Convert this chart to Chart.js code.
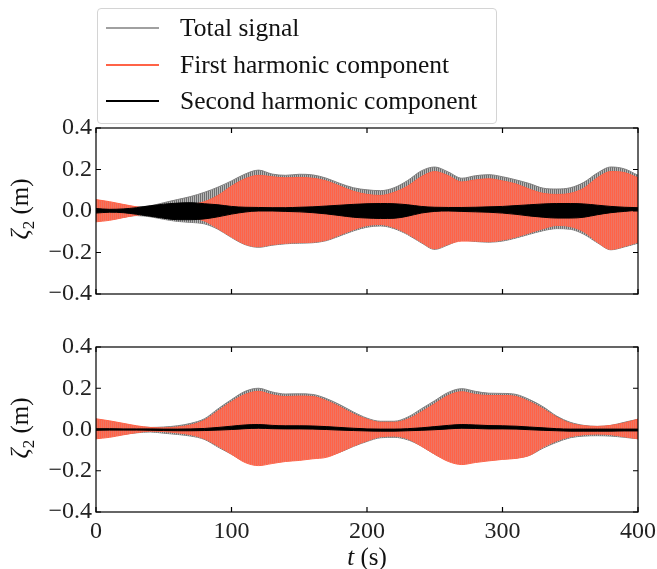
<!DOCTYPE html>
<html>
<head>
<meta charset="utf-8">
<script src="https://cdn.jsdelivr.net/npm/chart.js@4/dist/chart.umd.min.js"></script>
<style>
  body { margin: 0; background: #fff; }
  #wrap { position: relative; width: 657px; height: 569px; font-family: "Liberation Serif", serif; color: #111; }
  canvas { position: absolute; left: 0; }
  #c1 { top: 0; }
  #c2 { top: 300px; }
  .legend { position: absolute; left: 97px; top: 8px; width: 398px; height: 114px; border: 1px solid #d4d4d4; border-radius: 4px; background: rgba(255,255,255,0.85); z-index: 2; }
  .row { position: absolute; left: 0; height: 30px; font-size: 25.5px; line-height: 30px; }
  .row span.ln { position: absolute; left: 8px; top: 14px; width: 53px; height: 2px; }
  .row span.tx { position: absolute; left: 82px; white-space: nowrap; }
  .ytitle { position: absolute; font-size: 25px; white-space: nowrap; transform: translate(-50%, -50%) rotate(-90deg); left: 22px; }
  .xtitle { position: absolute; font-size: 25px; left: 367px; top: 557px; transform: translate(-50%, -50%); white-space: nowrap; }
</style>
</head>
<body>
<div id="wrap">
  <canvas id="c1" width="657" height="300"></canvas>
  <canvas id="c2" width="657" height="269"></canvas>
  <div class="legend">
    <div class="row" style="top:4px"><span class="ln" style="background:#a0a0a0"></span><span class="tx">Total signal</span></div>
    <div class="row" style="top:41px"><span class="ln" style="background:#ff6347"></span><span class="tx">First harmonic component</span></div>
    <div class="row" style="top:77px"><span class="ln" style="background:#000"></span><span class="tx">Second harmonic component</span></div>
  </div>
  <div class="ytitle" style="top:209px"><i>ζ</i><sub style="font-size:17px">2</sub> (m)</div>
  <div class="ytitle" style="top:428px"><i>ζ</i><sub style="font-size:17px">2</sub> (m)</div>
  <div class="xtitle"><i>t</i> (s)</div>
</div>
<script>
// time samples (s) where the envelopes were read
const t = [0, 10, 20, 30, 40, 50, 60, 70, 80, 90, 100, 110, 120, 130, 140, 150, 160, 170, 180, 190, 200,
           210, 220, 230, 240, 250, 260, 270, 280, 290, 300, 310, 320, 330, 340, 350, 360, 370, 380, 390, 400];
const xTicks = [0, 100, 200, 300, 400];
const yTicks = [-0.4, -0.2, 0, 0.2, 0.4];

// ---- top panel envelopes (m)
const topGrayUp = [0.04, 0.035, 0.025, 0.02, 0.025, 0.04, 0.055, 0.07, 0.09, 0.115, 0.145, 0.178, 0.197, 0.178, 0.172, 0.177, 0.174, 0.158, 0.133, 0.112, 0.102,
                   0.098, 0.112, 0.147, 0.193, 0.212, 0.188, 0.158, 0.17, 0.175, 0.165, 0.15, 0.132, 0.11, 0.106, 0.112, 0.138, 0.183, 0.212, 0.203, 0.172];
const topGrayLo = [-0.045, -0.04, -0.03, -0.022, -0.028, -0.04, -0.05, -0.055, -0.062, -0.088, -0.128, -0.162, -0.175, -0.165, -0.158, -0.155, -0.153, -0.143, -0.12, -0.096, -0.078,
                   -0.072, -0.085, -0.114, -0.153, -0.185, -0.163, -0.14, -0.147, -0.15, -0.145, -0.13, -0.112, -0.095, -0.085, -0.088, -0.112, -0.153, -0.187, -0.173, -0.155];
const topRedUp = [0.055, 0.045, 0.032, 0.02, 0.012, 0.015, 0.022, 0.03, 0.045, 0.075, 0.12, 0.155, 0.172, 0.165, 0.16, 0.162, 0.158, 0.145, 0.12, 0.095, 0.08,
                  0.075, 0.09, 0.12, 0.165, 0.19, 0.17, 0.14, 0.15, 0.155, 0.145, 0.13, 0.105, 0.085, 0.08, 0.085, 0.11, 0.16, 0.19, 0.185, 0.16];
const topRedLo = [-0.052, -0.045, -0.032, -0.02, -0.014, -0.018, -0.025, -0.032, -0.048, -0.085, -0.125, -0.16, -0.172, -0.162, -0.155, -0.152, -0.15, -0.14, -0.115, -0.09, -0.07,
                  -0.065, -0.08, -0.11, -0.15, -0.182, -0.16, -0.145, -0.145, -0.148, -0.14, -0.125, -0.105, -0.085, -0.07, -0.075, -0.1, -0.15, -0.185, -0.17, -0.15];
const topBlackUp = [0.012, 0.008, 0.01, 0.016, 0.025, 0.033, 0.038, 0.04, 0.035, 0.03, 0.022, 0.018, 0.017, 0.016, 0.016, 0.018, 0.02, 0.024, 0.028, 0.032, 0.035,
                    0.036, 0.035, 0.03, 0.022, 0.018, 0.017, 0.017, 0.018, 0.02, 0.022, 0.026, 0.03, 0.034, 0.036, 0.036, 0.034, 0.028, 0.022, 0.018, 0.016];
const topBlackLo = [-0.01, -0.006, -0.008, -0.016, -0.025, -0.035, -0.042, -0.042, -0.038, -0.028, -0.015, -0.005, 0.0, 0.0, -0.002, -0.004, -0.008, -0.014, -0.022, -0.03, -0.034,
                    -0.036, -0.035, -0.025, -0.01, -0.002, 0.0, -0.002, -0.004, -0.006, -0.01, -0.016, -0.024, -0.03, -0.034, -0.034, -0.03, -0.018, -0.008, -0.002, 0.004];

// ---- bottom panel envelopes (m)
const botGrayUp = [0.045, 0.035, 0.025, 0.015, 0.01, 0.012, 0.018, 0.03, 0.052, 0.1, 0.145, 0.185, 0.2, 0.182, 0.172, 0.173, 0.17, 0.15, 0.12, 0.085, 0.055,
                   0.04, 0.04, 0.06, 0.1, 0.14, 0.18, 0.198, 0.185, 0.176, 0.175, 0.17, 0.145, 0.11, 0.065, 0.035, 0.02, 0.015, 0.02, 0.035, 0.05];
const botGrayLo = [-0.04, -0.033, -0.024, -0.016, -0.012, -0.018, -0.024, -0.032, -0.048, -0.085, -0.12, -0.155, -0.165, -0.158, -0.15, -0.145, -0.138, -0.13, -0.11, -0.082, -0.058,
                   -0.04, -0.038, -0.05, -0.08, -0.12, -0.15, -0.165, -0.155, -0.148, -0.142, -0.138, -0.125, -0.09, -0.062, -0.04, -0.032, -0.03, -0.032, -0.038, -0.045];
const botRedUp = [0.052, 0.042, 0.03, 0.018, 0.01, 0.008, 0.012, 0.022, 0.045, 0.09, 0.135, 0.17, 0.185, 0.168, 0.16, 0.162, 0.16, 0.14, 0.11, 0.075, 0.05,
                  0.035, 0.035, 0.05, 0.085, 0.125, 0.165, 0.183, 0.17, 0.165, 0.165, 0.16, 0.135, 0.1, 0.06, 0.03, 0.018, 0.015, 0.02, 0.032, 0.05];
const botRedLo = [-0.045, -0.038, -0.026, -0.015, -0.008, -0.01, -0.016, -0.025, -0.045, -0.08, -0.12, -0.16, -0.175, -0.165, -0.155, -0.15, -0.142, -0.135, -0.11, -0.08, -0.055,
                  -0.035, -0.032, -0.045, -0.08, -0.12, -0.155, -0.17, -0.16, -0.152, -0.145, -0.14, -0.125, -0.085, -0.055, -0.035, -0.025, -0.022, -0.025, -0.035, -0.045];
const botBlackUp = [0.004, 0.004, 0.003, 0.003, 0.003, 0.002, 0.002, 0.003, 0.005, 0.01, 0.016, 0.022, 0.024, 0.02, 0.018, 0.018, 0.017, 0.014, 0.01, 0.006, 0.003,
                    0.002, 0.002, 0.004, 0.008, 0.014, 0.02, 0.024, 0.022, 0.019, 0.018, 0.016, 0.012, 0.008, 0.004, 0.002, 0.002, 0.002, 0.002, 0.002, 0.002];
const botBlackLo = [-0.004, -0.003, -0.003, -0.003, -0.004, -0.005, -0.006, -0.006, -0.005, -0.003, 0.0, 0.004, 0.006, 0.004, 0.003, 0.003, 0.002, 0.0, -0.003, -0.005, -0.007,
                    -0.008, -0.008, -0.006, -0.004, -0.001, 0.003, 0.006, 0.005, 0.003, 0.003, 0.002, -0.001, -0.004, -0.006, -0.008, -0.008, -0.008, -0.008, -0.007, -0.007];

// vertical striping like the dense oscillation
function stripes(a, b) {
    const c = document.createElement('canvas');
    c.width = 2; c.height = 1;
    const g = c.getContext('2d');
    g.fillStyle = a; g.fillRect(0, 0, 1, 1);
    g.fillStyle = b; g.fillRect(1, 0, 1, 1);
    return g.createPattern(c, 'repeat');
}

function pts(ys) {
    return t.map((x, i) => ({ x: x, y: ys[i] }));
}

function band(up, lo, color, fillStyle) {
    const base = { borderColor: color, borderWidth: 1, pointRadius: 0, cubicInterpolationMode: 'monotone' };
    return [
        Object.assign({ data: pts(up), fill: '+1', backgroundColor: fillStyle }, base),
        Object.assign({ data: pts(lo), fill: false }, base)
    ];
}

const frame = {
    id: 'frame',
    afterDraw(chart) {
        const { ctx, chartArea: a, scales: { x, y } } = chart;
        ctx.save();
        ctx.strokeStyle = '#000';
        ctx.lineWidth = 1.2;
        ctx.strokeRect(a.left, a.top, a.right - a.left, a.bottom - a.top);
        ctx.beginPath();
        xTicks.forEach(v => {
            const px = x.getPixelForValue(v);
            ctx.moveTo(px, a.bottom); ctx.lineTo(px, a.bottom - 5);
            ctx.moveTo(px, a.top); ctx.lineTo(px, a.top + 5);
        });
        yTicks.forEach(v => {
            const py = y.getPixelForValue(v);
            ctx.moveTo(a.left, py); ctx.lineTo(a.left + 5, py);
            ctx.moveTo(a.right, py); ctx.lineTo(a.right - 5, py);
        });
        ctx.stroke();
        ctx.restore();
    }
};

const font = { family: 'Liberation Serif', size: 24 };

function makeChart(id, datasets, showX, pad) {
    return new Chart(document.getElementById(id), {
        type: 'line',
        data: { datasets: datasets },
        options: {
            responsive: false,
            animation: false,
            events: [],
            layout: { padding: pad },
            plugins: { legend: { display: false }, tooltip: { enabled: false } },
            scales: {
                x: {
                    type: 'linear', min: 0, max: 400,
                    grid: { display: false, drawTicks: false },
                    border: { display: false },
                    afterBuildTicks: s => { s.ticks = xTicks.map(v => ({ value: v })); },
                    afterFit: s => { s.height = showX ? 57 : 0; s.paddingLeft = 0; s.paddingRight = 0; },
                    ticks: { display: showX, padding: 5, color: '#222', font: font, maxRotation: 0 }
                },
                y: {
                    min: -0.4, max: 0.4,
                    grid: { display: false, drawTicks: false },
                    border: { display: false },
                    afterBuildTicks: s => { s.ticks = yTicks.map(v => ({ value: v })); },
                    afterFit: s => { s.width = 96; s.paddingTop = 0; s.paddingBottom = 0; },
                    ticks: {
                        padding: 4, color: '#222', font: font,
                        callback: v => v.toFixed(1).replace('-', '\u2212')
                    }
                }
            }
        },
        plugins: [frame]
    });
}

const redFill = stripes('#ff6347', '#ef7563');
const grayFill = stripes('#6e6e6e', '#b8b8b8');

makeChart('c1', [
    ...band(topBlackUp, topBlackLo, '#000', '#000'),
    ...band(topRedUp, topRedLo, '#ff6347', redFill),
    ...band(topGrayUp, topGrayLo, '#808080', grayFill)
], false, { top: 128, right: 19, bottom: 6, left: 0 });

makeChart('c2', [
    ...band(botBlackUp, botBlackLo, '#000', '#000'),
    ...band(botRedUp, botRedLo, '#ff6347', redFill),
    ...band(botGrayUp, botGrayLo, '#808080', grayFill)
], true, { top: 47, right: 19, bottom: 0, left: 0 });
</script>
</body>
</html>
